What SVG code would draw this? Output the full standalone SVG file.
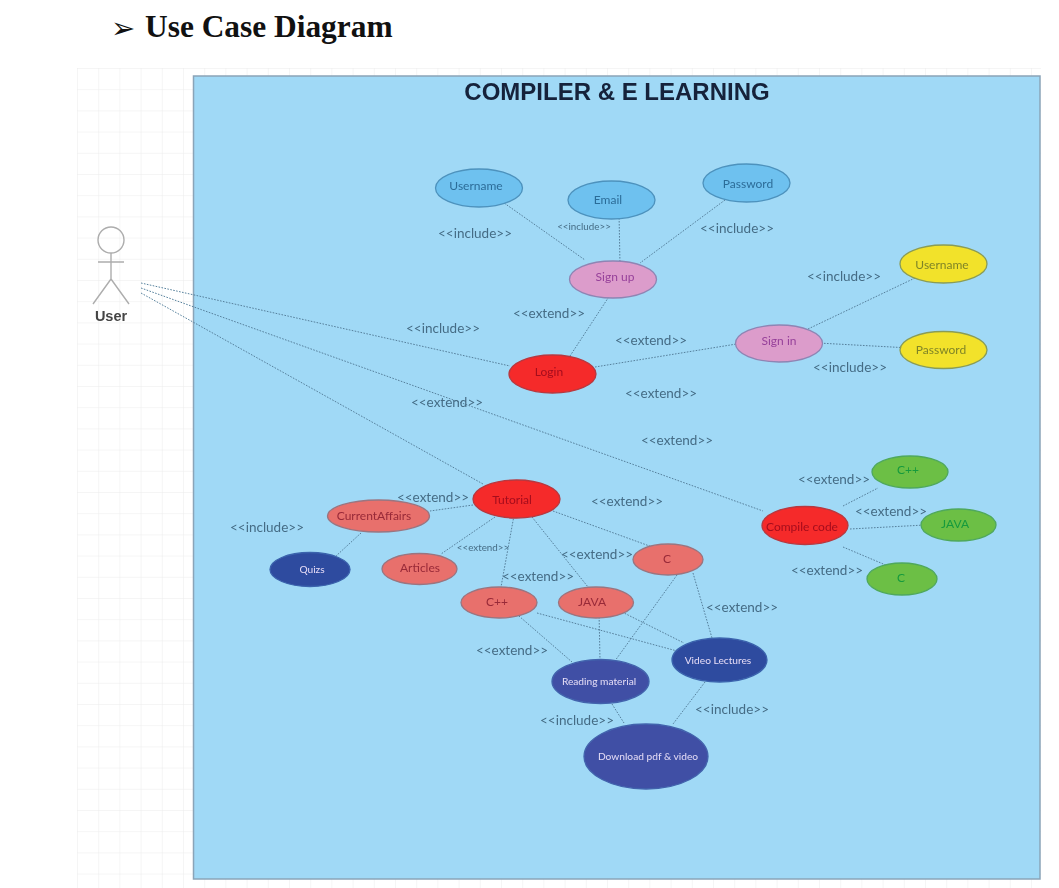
<svg xmlns="http://www.w3.org/2000/svg" width="1059" height="888" viewBox="0 0 1059 888">
<style>
text{font-family:"Lato","Open Sans","Liberation Sans",sans-serif;text-anchor:middle}
.lbl{font-size:13.5px;fill:#456c85}
.n{font-size:12px}
.conn line{stroke:#56809c;stroke-width:1;stroke-dasharray:1.6 1.4;fill:none}
.act{stroke:#adadad;stroke-width:1.4;fill:none}
ellipse{stroke-width:1.3}
.blue ellipse{fill:#6ec1ef;stroke:#4d92bd}.blue text{fill:#2c6c98}
.pink ellipse{fill:#dc9ccb;stroke:#8f84b3}.pink text{fill:#96409a}
.yel ellipse{fill:#f2e22b;stroke:#8a9c55}.yel text{fill:#7f8428}
.red ellipse{fill:#f52a2a;stroke:#b8383f}.red text{fill:#a50e1e}
.sal ellipse{fill:#e86f6c;stroke:#9a7580}.sal text{fill:#982a38}
.navy ellipse{fill:#2f4b9f;stroke:#3a63ad}.navy text{fill:#e6dcf6;font-size:10.2px}
.vio ellipse{fill:#3f50a5;stroke:#4263ad}.vio text{fill:#e6dcf6;font-size:10.2px}
.grn ellipse{fill:#6cbf45;stroke:#4fa85c}.grn text{fill:#169a3d}
</style>
<defs>
<pattern id="grid" x="77" y="68" width="21.2" height="21.2" patternUnits="userSpaceOnUse"><path d="M21.2 0H0V21.2" fill="none" stroke="#ececec" stroke-width="1"/></pattern>
<filter id="soft" x="-2%" y="-2%" width="104%" height="104%"><feGaussianBlur stdDeviation="0.5"/></filter>
</defs>
<rect width="1059" height="888" fill="#fff"/>
<text x="111" y="38" style="font-family:'DejaVu Sans',sans-serif;text-anchor:start;font-size:29px" fill="#111">➢</text>
<text x="145" y="37" style="font-family:'Liberation Serif',serif;text-anchor:start;font-size:31.4px;font-weight:bold" fill="#111">Use Case Diagram</text>
<g filter="url(#soft)">
<rect x="77" y="68" width="964" height="820" fill="url(#grid)"/>
<rect id="system" x="193.5" y="76" width="846.5" height="803" fill="#a0d9f6" stroke="#8aa4b8" stroke-width="1.5"/>
<text x="617" y="100" style="font-family:'Liberation Sans',sans-serif;font-size:24px;font-weight:bold" fill="#14233a">COMPILER &amp; E LEARNING</text>
<g class="conn">
<line x1="141" y1="283" x2="510" y2="366"/>
<line x1="141" y1="288" x2="763" y2="511"/>
<line x1="141" y1="293" x2="483" y2="484"/>
<line x1="497" y1="198" x2="585" y2="260"/>
<line x1="619" y1="212" x2="620" y2="265"/>
<line x1="725" y1="200" x2="640" y2="263"/>
<line x1="612" y1="292" x2="570" y2="356"/>
<line x1="595" y1="367" x2="755" y2="341"/>
<line x1="808" y1="329" x2="915" y2="278"/>
<line x1="818" y1="343" x2="910" y2="348"/>
<line x1="473" y1="505" x2="430" y2="511"/>
<line x1="361" y1="533" x2="336" y2="556"/>
<line x1="495" y1="517" x2="441" y2="554"/>
<line x1="515" y1="510" x2="501" y2="587"/>
<line x1="532" y1="517" x2="588" y2="587"/>
<line x1="553" y1="511" x2="655" y2="548"/>
<line x1="512" y1="610" x2="572" y2="662"/>
<line x1="537" y1="613" x2="677" y2="651"/>
<line x1="599" y1="611" x2="600" y2="660"/>
<line x1="622" y1="612" x2="684" y2="643"/>
<line x1="677" y1="575" x2="612" y2="665"/>
<line x1="693" y1="573" x2="712" y2="638"/>
<line x1="612" y1="704" x2="624" y2="723"/>
<line x1="705" y1="682" x2="673" y2="724"/>
<line x1="843" y1="506" x2="878" y2="488"/>
<line x1="850" y1="529" x2="925" y2="525"/>
<line x1="843" y1="547" x2="888" y2="566"/>
</g>
<g id="actor-user">
<circle class="act" cx="111" cy="240" r="13"/>
<path class="act" d="M111 253V279M98 262H124M111 279L93 304M111 279L129 304"/>
<text x="111" y="321" style="font-family:'Liberation Sans',sans-serif;font-size:14.5px;font-weight:bold" fill="#444">User</text>
</g>
<g id="n-username1" class="blue"><ellipse cx="479" cy="188" rx="43.5" ry="19"/><text class="n" x="476" y="190">Username</text></g>
<g id="n-email" class="blue"><ellipse cx="611.5" cy="200" rx="43.5" ry="19"/><text class="n" x="608" y="204">Email</text></g>
<g id="n-password1" class="blue"><ellipse cx="746.5" cy="183" rx="43.5" ry="19"/><text class="n" x="748" y="188">Password</text></g>
<g id="n-signup" class="pink"><ellipse cx="613" cy="279.5" rx="43.5" ry="18.5"/><text class="n" x="615" y="281">Sign up</text></g>
<g id="n-signin" class="pink"><ellipse cx="779" cy="343.5" rx="43.5" ry="18.5"/><text class="n" x="779" y="345">Sign in</text></g>
<g id="n-username2" class="yel"><ellipse cx="943.5" cy="264" rx="43.5" ry="19"/><text class="n" x="942" y="269">Username</text></g>
<g id="n-password2" class="yel"><ellipse cx="943.5" cy="350" rx="43.5" ry="18.5"/><text class="n" x="941" y="354">Password</text></g>
<g id="n-login" class="red"><ellipse cx="552.5" cy="374" rx="43.5" ry="19"/><text class="n" x="549" y="376">Login</text></g>
<g id="n-tutorial" class="red"><ellipse cx="516.5" cy="499" rx="43.5" ry="19"/><text class="n" x="512" y="504">Tutorial</text></g>
<g id="n-compile" class="red"><ellipse cx="805" cy="525.5" rx="43" ry="19"/><text class="n" x="802" y="531">Compile code</text></g>
<g id="n-currentaffairs" class="sal"><ellipse cx="378.5" cy="516" rx="51" ry="16"/><text class="n" x="374" y="520">CurrentAffairs</text></g>
<g id="n-articles" class="sal"><ellipse cx="419.5" cy="569" rx="37.5" ry="15.5"/><text class="n" x="420" y="572">Articles</text></g>
<g id="n-cpp1" class="sal"><ellipse cx="499" cy="602.5" rx="38" ry="15.5"/><text class="n" x="497" y="606">C++</text></g>
<g id="n-java1" class="sal"><ellipse cx="596" cy="602.5" rx="37.5" ry="15.5"/><text class="n" x="592" y="606">JAVA</text></g>
<g id="n-c1" class="sal"><ellipse cx="668" cy="559.5" rx="35" ry="15.5"/><text class="n" x="667" y="563">C</text></g>
<g id="n-quizs" class="navy"><ellipse cx="310" cy="569.5" rx="40" ry="17"/><text x="312" y="573">Quizs</text></g>
<g id="n-video" class="navy"><ellipse cx="719.5" cy="660" rx="47.5" ry="22"/><text x="718" y="664">Video Lectures</text></g>
<g id="n-reading" class="vio"><ellipse cx="600.5" cy="681.5" rx="48.5" ry="22"/><text x="599" y="685">Reading material</text></g>
<g id="n-download" class="vio"><ellipse cx="646" cy="756.5" rx="62" ry="32.5"/><text x="648" y="760">Download pdf &amp; video</text></g>
<g id="n-cpp2" class="grn"><ellipse cx="910" cy="472" rx="38" ry="16"/><text class="n" x="908" y="474">C++</text></g>
<g id="n-java2" class="grn"><ellipse cx="958.5" cy="525" rx="37.5" ry="16"/><text class="n" x="955" y="528">JAVA</text></g>
<g id="n-c2" class="grn"><ellipse cx="902" cy="579" rx="35" ry="16"/><text class="n" x="901" y="582">C</text></g>
<g id="labels">
<text class="lbl" x="475" y="238">&lt;&lt;include&gt;&gt;</text>
<text class="lbl" x="584" y="230" style="font-size:9.8px">&lt;&lt;include&gt;&gt;</text>
<text class="lbl" x="737" y="233">&lt;&lt;include&gt;&gt;</text>
<text class="lbl" x="844" y="281">&lt;&lt;include&gt;&gt;</text>
<text class="lbl" x="443" y="333">&lt;&lt;include&gt;&gt;</text>
<text class="lbl" x="850" y="372">&lt;&lt;include&gt;&gt;</text>
<text class="lbl" x="267" y="532">&lt;&lt;include&gt;&gt;</text>
<text class="lbl" x="577" y="725">&lt;&lt;include&gt;&gt;</text>
<text class="lbl" x="732" y="714">&lt;&lt;include&gt;&gt;</text>
<text class="lbl" x="549" y="318">&lt;&lt;extend&gt;&gt;</text>
<text class="lbl" x="651" y="345">&lt;&lt;extend&gt;&gt;</text>
<text class="lbl" x="661" y="398">&lt;&lt;extend&gt;&gt;</text>
<text class="lbl" x="447" y="407">&lt;&lt;extend&gt;&gt;</text>
<text class="lbl" x="677" y="445">&lt;&lt;extend&gt;&gt;</text>
<text class="lbl" x="627" y="506">&lt;&lt;extend&gt;&gt;</text>
<text class="lbl" x="433" y="502">&lt;&lt;extend&gt;&gt;</text>
<text class="lbl" x="834" y="484">&lt;&lt;extend&gt;&gt;</text>
<text class="lbl" x="891" y="516">&lt;&lt;extend&gt;&gt;</text>
<text class="lbl" x="827" y="575">&lt;&lt;extend&gt;&gt;</text>
<text class="lbl" x="597" y="559">&lt;&lt;extend&gt;&gt;</text>
<text class="lbl" x="538" y="581">&lt;&lt;extend&gt;&gt;</text>
<text class="lbl" x="742" y="612">&lt;&lt;extend&gt;&gt;</text>
<text class="lbl" x="512" y="655">&lt;&lt;extend&gt;&gt;</text>
<text class="lbl" x="483" y="551" style="font-size:9.8px">&lt;&lt;extend&gt;&gt;</text>
</g>
</g>
</svg>
